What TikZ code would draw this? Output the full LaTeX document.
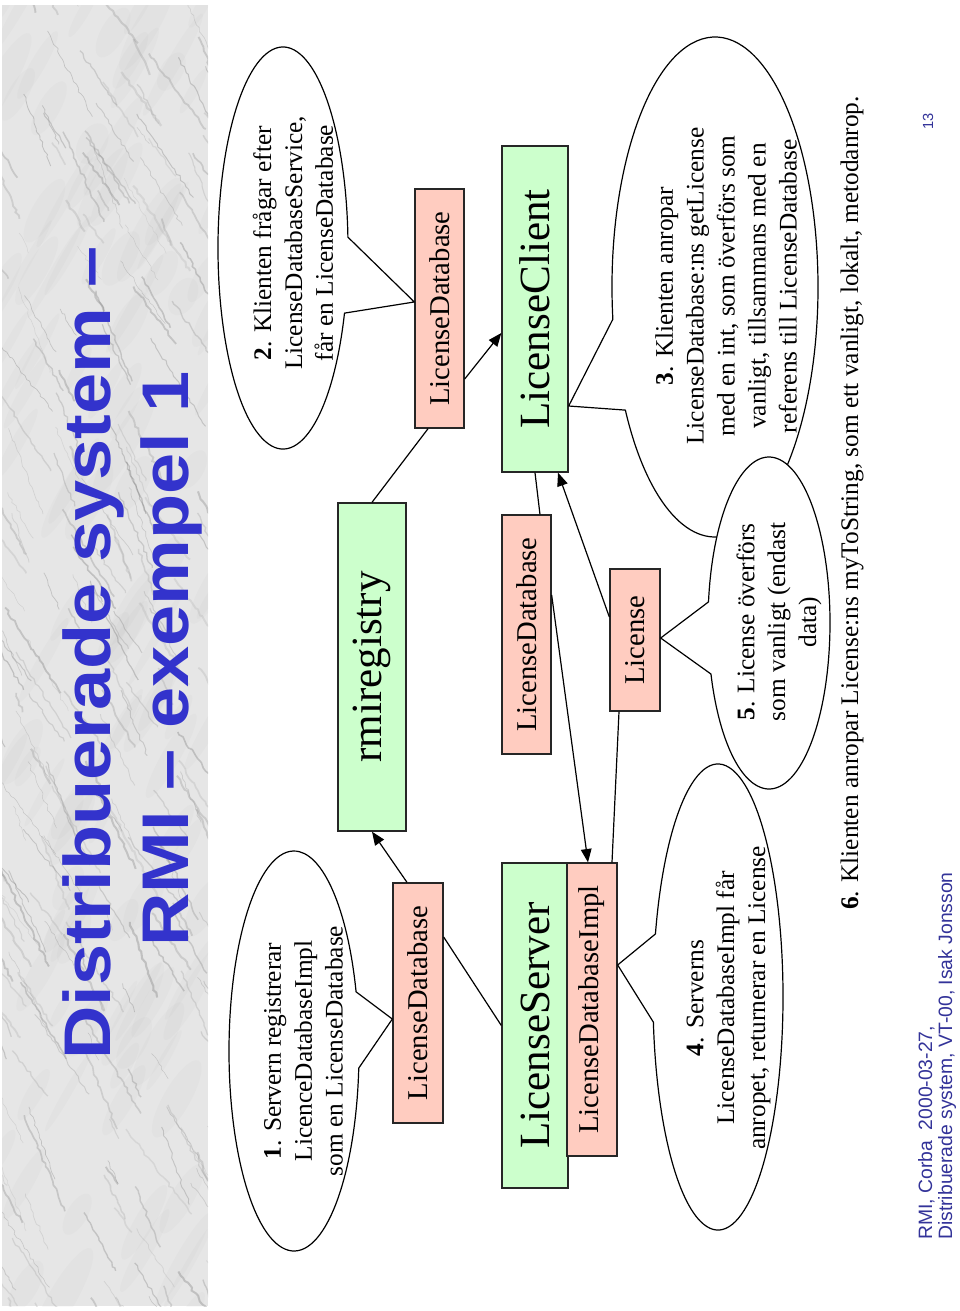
\documentclass[tikz,border=0pt]{standalone}
\usepackage{fontspec}
\setmainfont{Liberation Serif}
\newfontfamily\titlefont[FakeStretch=1.12]{Liberation Sans}
\newfontfamily\footfont{Liberation Sans}
\usepackage{graphicx}
\usetikzlibrary{arrows.meta,calc,decorations.pathmorphing}

\definecolor{boxgreen}{RGB}{204,255,204}
\definecolor{boxpink}{RGB}{255,204,192}
\definecolor{titleblue}{RGB}{51,51,204}
\definecolor{footblue}{RGB}{51,51,153}
\definecolor{marblebase}{RGB}{230,230,230}

\tikzset{
  lbox/.style={draw=black!85, line width=1pt, inner sep=0pt},
  gbox/.style={lbox, fill=boxgreen},
  pbox/.style={lbox, fill=boxpink},
  smalllbl/.style={font=\fontsize{21.5}{24}\selectfont},
  biglbl/.style={font=\fontsize{32.3}{36}\selectfont},
  conn/.style={line width=0.9pt, draw=black},
  arr/.style={conn, -{Triangle[length=10pt,width=8pt]}},
  bubble/.style={draw=black, line width=0.9pt, fill=white, line join=round},
  btext/.style={rotate=90, align=center, inner sep=0pt, font=\fontsize{19}{23.2}\selectfont},
  titletext/.style={rotate=90, anchor=base, inner sep=0pt, text=titleblue, font=\titlefont\bfseries\fontsize{49.5}{50}\selectfont},
  foottext/.style={rotate=90, anchor=base west, inner sep=0pt, text=footblue, font=\footfont\fontsize{14.5}{16}\selectfont},
}

\begin{document}
\begin{tikzpicture}[x=0.75pt, y=-0.75pt]
\fill[white] (0,0) rectangle (960,1311);
\useasboundingbox (0,0) rectangle (960,1311);

% marble strip
\begin{scope}
  \clip (2,5) rectangle (208,1306);
  \fill[marblebase] (2,5) rectangle (208,1306);
  \pgfmathsetseed{11}
  \foreach \i in {1,...,120}{
    \pgfmathsetmacro{\xa}{rnd*220}
    \pgfmathsetmacro{\ya}{rnd*1320}
    \pgfmathsetmacro{\rx}{4+rnd*10}
    \pgfmathsetmacro{\ry}{20+rnd*40}
    \fill[black!35, opacity=0.06, rotate around={-30:(\xa,\ya)}] (\xa,\ya) ellipse [x radius=\rx, y radius=\ry];
  }
  \foreach \i in {1,...,260}{
    \pgfmathsetmacro{\xa}{rnd*260-40}
    \pgfmathsetmacro{\ya}{rnd*1380-40}
    \pgfmathsetmacro{\len}{20+rnd*90}
    \pgfmathsetmacro{\ang}{52+rnd*20}
    \pgfmathtruncatemacro{\gr}{30+rnd*30}
    \pgfmathsetmacro{\lw}{0.3+rnd*1.3}
    \draw[black!\gr, opacity=0.3, line width=\lw pt, decorate,
          decoration={random steps, segment length=3pt, amplitude=1pt}]
      (\xa,\ya) -- ++(\ang:\len);
  }
\end{scope}

% title
\node[titletext] (title1) at (110,653) {Distribuerade system –};
\node[titletext] (title2) at (188,659) {RMI – exempel 1};

% boxes
\node[pbox, smalllbl, minimum width=36.75pt, minimum height=179.25pt] (ldbT) at (439.5,308.5) {\rotatebox{90}{LicenseDatabase}};
\node[gbox, biglbl, minimum width=51pt, minimum height=246pt] (rmi) at (372,667) {\rotatebox{90}{rmiregistry}};
\node[pbox, smalllbl, minimum width=37.5pt, minimum height=180pt] (ldbL) at (418,1003) {\rotatebox{90}{LicenseDatabase}};
\node[gbox, biglbl, minimum width=49.5pt, minimum height=244.5pt] (client) at (535,309) {\rotatebox{90}{LicenseClient}};
\node[pbox, smalllbl, minimum width=36.75pt, minimum height=179.25pt] (ldbM) at (526.5,634.5) {\rotatebox{90}{LicenseDatabase}};
\node[pbox, smalllbl, minimum width=37.5pt, minimum height=106.5pt] (lic) at (635,640) {\rotatebox{90}{License}};
\node[gbox, biglbl, minimum width=49.5pt, minimum height=243.75pt] (server) at (535,1025.5) {\rotatebox{90}{LicenseServer}};
\node[pbox, smalllbl, minimum width=37.5pt, minimum height=219.75pt] (impl) at (592,1009.5) {\rotatebox{90}{LicenseDatabaseImpl}};

% callouts
\draw[bubble] (294,1051) ++(4.9:65 and 200) arc[start angle=4.9, end angle=342.8, x radius=65, y radius=200] -- ([yshift=-12pt]ldbL.west) -- cycle;
\node[btext] (c1) at (303.5,1051) {\textbf{1}. Servern registrerar\\LicenceDatabaseImpl\\som en LicenseDatabase};

\draw[bubble] (283,248) ++(18.9:65 and 201) arc[start angle=18.9, end angle=356.9, x radius=65, y radius=201] -- ([yshift=4.9pt]ldbT.west) -- cycle;
\node[btext] (c2) at (293,243) {\textbf{2}. Klienten frågar efter\\LicenseDatabaseService,\\får en LicenseDatabase};

\draw[bubble] (715,287) ++(172.6:103 and 250) arc[start angle=172.6, end angle=510.5, x radius=103, y radius=250] -- ([yshift=-72.75pt]client.east) -- cycle;
\node[btext] (c3) at (726,286) {\textbf{3}. Klienten anropar\\LicenseDatabase:ns getLicense\\med en int, som överförs som\\vanligt, tillsammans med en\\referens till LicenseDatabase};

\draw[bubble] (718,997) ++(195.7:65 and 233) arc[start angle=195.7, end angle=533.8, x radius=65, y radius=233] -- ([yshift=33.4pt]impl.east) -- cycle;
\node[btext] (c4) at (728.5,998) {\textbf{4}. Serverns\\LicenseDatabaseImpl får\\anropet, returnerar en License};

\draw[bubble] (769,623) ++(187.3:61 and 166) arc[start angle=187.3, end angle=522.1, x radius=61, y radius=166] -- ([yshift=1.5pt]lic.east) -- cycle;
\node[btext] (c5) at (779,622) {\textbf{5}. License överförs\\som vanligt (endast\\data)};

\node[btext] (c6) at (852,503) {\textbf{6}. Klienten anropar License:ns myToString, som ett vanligt, lokalt, metodanrop.};

% connectors
\draw[conn] ([xshift=-8.6pt]ldbT.south) -- (rmi.north);
\draw[arr] ([yshift=-52.9pt]ldbT.east) -- ([yshift=-18pt]client.west);
\draw[conn] (client.south) -- ([xshift=10.1pt]ldbM.north);
\draw[arr] ([yshift=17.25pt]lic.west) -- ([xshift=17.25pt]client.south);
\draw[arr] ([yshift=29.6pt]ldbM.east) -- ([xshift=-3pt]impl.north);
\draw[conn] ([xshift=-12pt]lic.south) -- ([xshift=15pt]impl.north);
\draw[arr] ([xshift=-8.25pt]ldbL.north) -- (rmi.south);
\draw[conn] ([yshift=49.5pt]ldbL.east) -- (server.west);

% footer
\node[foottext] (f1) at (932,1240) {RMI, Corba\ \ 2000-03-27,};
\node[foottext] (f2) at (952,1240) {Distribuerade system, VT-00, Isak Jonsson};
\node[rotate=90, inner sep=0pt, text=footblue, font=\footfont\fontsize{11}{13}\selectfont] (pg) at (928,121) {13};
\end{tikzpicture}
\end{document}
